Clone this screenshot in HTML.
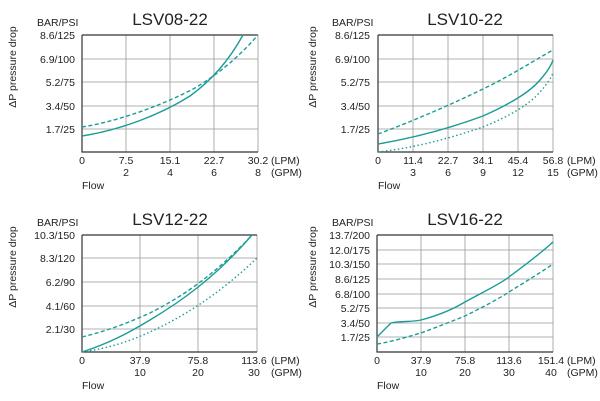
<!DOCTYPE html>
<html><head><meta charset="utf-8"><style>
html,body{margin:0;padding:0;background:#fff}
svg{display:block}
text{font-family:"Liberation Sans",sans-serif;fill:#222}
.t{font-size:17px}
.s{font-size:10.5px}
.g{stroke:#999;stroke-width:0.8;fill:none}
.ax{stroke:#333;stroke-width:1.2;fill:none}
.c{stroke:#1a9d95;stroke-width:1.4;fill:none}
.d{stroke-dasharray:4 2.5}
.o{stroke-dasharray:1.5 2.5}
</style></head><body>
<svg width="600" height="401" viewBox="0 0 600 401">
<!-- Chart 1 -->
<g>
<text class="t" x="170" y="25" text-anchor="middle">LSV08-22</text>
<text class="s" x="37" y="26">BAR/PSI</text>
<text class="s" transform="translate(16,67) rotate(-90)" text-anchor="middle">ΔP pressure drop</text>
<path class="g" d="M126 35V152M170 35V152M214 35V152M258 35V152M82 59H258M82 82H258M82 106H258M82 129H258"/>
<path class="ax" d="M82 35H258M82 35V152H258"/>
<g class="s" text-anchor="end"><text x="75" y="39">8.6/125</text><text x="75" y="63">6.9/100</text><text x="75" y="86">5.2/75</text><text x="75" y="110">3.4/50</text><text x="75" y="133">1.7/25</text></g>
<g class="s" text-anchor="middle"><text x="82" y="164">0</text><text x="126" y="164">7.5</text><text x="170" y="164">15.1</text><text x="214" y="164">22.7</text><text x="258" y="164">30.2</text>
<text x="126" y="176">2</text><text x="170" y="176">4</text><text x="214" y="176">6</text><text x="258" y="176">8</text></g>
<text class="s" x="271" y="164">(LPM)</text><text class="s" x="271" y="176">(GPM)</text>
<text class="s" x="82" y="189">Flow</text>
<path class="c" d="M82 136C120 130 160 115 190 96C215 78 232 55 243 35"/>
<path class="c d" d="M82 127C120 121 165 104 195 88C225 70 245 50 258 35"/>
</g>
<!-- Chart 2 -->
<g>
<text class="t" x="465" y="25" text-anchor="middle">LSV10-22</text>
<text class="s" x="332" y="26">BAR/PSI</text>
<text class="s" transform="translate(316,67) rotate(-90)" text-anchor="middle">ΔP pressure drop</text>
<path class="g" d="M413 35V152M448 35V152M483 35V152M518 35V152M553 35V152M378 59H553M378 82H553M378 106H553M378 129H553"/>
<path class="ax" d="M378 35H553M378 35V152H553"/>
<g class="s" text-anchor="end"><text x="370" y="39">8.6/125</text><text x="370" y="63">6.9/100</text><text x="370" y="86">5.2/75</text><text x="370" y="110">3.4/50</text><text x="370" y="133">1.7/25</text></g>
<g class="s" text-anchor="middle"><text x="378" y="164">0</text><text x="413" y="164">11.4</text><text x="448" y="164">22.7</text><text x="483" y="164">34.1</text><text x="518" y="164">45.4</text><text x="553" y="164">56.8</text>
<text x="413" y="176">3</text><text x="448" y="176">6</text><text x="483" y="176">9</text><text x="518" y="176">12</text><text x="553" y="176">15</text></g>
<text class="s" x="567" y="164">(LPM)</text><text class="s" x="567" y="176">(GPM)</text>
<text class="s" x="378" y="189">Flow</text>
<path class="c d" d="M378 134C413 121 448 106 483 89C510 76 535 60 553 50"/>
<path class="c" d="M378 144C413 138 448 129 483 116C510 104 530 92 540 80C547 72 551 66 553 60"/>
<path class="c o" d="M378 152C413 148 448 139 483 127C510 116 530 104 540 92C547 84 551 78 553 73"/>
</g>
<!-- Chart 3 -->
<g>
<text class="t" x="170" y="225" text-anchor="middle">LSV12-22</text>
<text class="s" x="37" y="226">BAR/PSI</text>
<text class="s" transform="translate(16,267) rotate(-90)" text-anchor="middle">ΔP pressure drop</text>
<path class="g" d="M140 235V352M198 235V352M257 235V352M82 258H257M82 282H257M82 306H257M82 329H257"/>
<path class="ax" d="M82 235H257M82 235V352H257"/>
<g class="s" text-anchor="end"><text x="75" y="239">10.3/150</text><text x="75" y="262">8.3/120</text><text x="75" y="286">6.2/90</text><text x="75" y="310">4.1/60</text><text x="75" y="333">2.1/30</text></g>
<g class="s" text-anchor="middle"><text x="82" y="364">0</text><text x="140" y="364">37.9</text><text x="198" y="364">75.8</text><text x="254" y="364">113.6</text>
<text x="140" y="376">10</text><text x="198" y="376">20</text><text x="254" y="376">30</text></g>
<text class="s" x="271" y="364">(LPM)</text><text class="s" x="271" y="376">(GPM)</text>
<text class="s" x="82" y="389">Flow</text>
<path class="c d" d="M82 337C110 330 130 322 150 313C180 298 215 275 252 235"/>
<path class="c" d="M82 352C110 343 130 332 150 320C180 302 215 278 252 235"/>
<path class="c o" d="M82 352C110 348 130 341 150 332C180 318 215 298 257 258"/>
</g>
<!-- Chart 4 -->
<g>
<text class="t" x="465" y="225" text-anchor="middle">LSV16-22</text>
<text class="s" x="332" y="226">BAR/PSI</text>
<text class="s" transform="translate(316,267) rotate(-90)" text-anchor="middle">ΔP pressure drop</text>
<path class="g" d="M421 235V352M465 235V352M509 235V352M553 235V352M377 250H553M377 264H553M377 279H553M377 294H553M377 308H553M377 323H553M377 337H553"/>
<path class="ax" d="M377 235H553M377 235V352H553"/>
<g class="s" text-anchor="end"><text x="370" y="239">13.7/200</text><text x="370" y="254">12.0/175</text><text x="370" y="268">10.3/150</text><text x="370" y="283">8.6/125</text><text x="370" y="298">6.8/100</text><text x="370" y="312">5.2/75</text><text x="370" y="327">3.4/50</text><text x="370" y="341">1.7/25</text></g>
<g class="s" text-anchor="middle"><text x="377" y="364">0</text><text x="421" y="364">37.9</text><text x="465" y="364">75.8</text><text x="509" y="364">113.6</text><text x="551" y="364">151.4</text>
<text x="421" y="376">10</text><text x="465" y="376">20</text><text x="509" y="376">30</text><text x="551" y="376">40</text></g>
<text class="s" x="567" y="364">(LPM)</text><text class="s" x="567" y="376">(GPM)</text>
<text class="s" x="377" y="389">Flow</text>
<path class="c" d="M377 337L391 323C400 321 412 322 421 320C440 315 455 308 465 302C485 291 500 284 509 277C525 265 540 254 553 242"/>
<path class="c d" d="M377 344C395 341 410 336 421 333C440 326 455 320 465 316C485 306 500 298 509 292C525 282 540 273 553 264"/>
</g>
</svg>
</body></html>
